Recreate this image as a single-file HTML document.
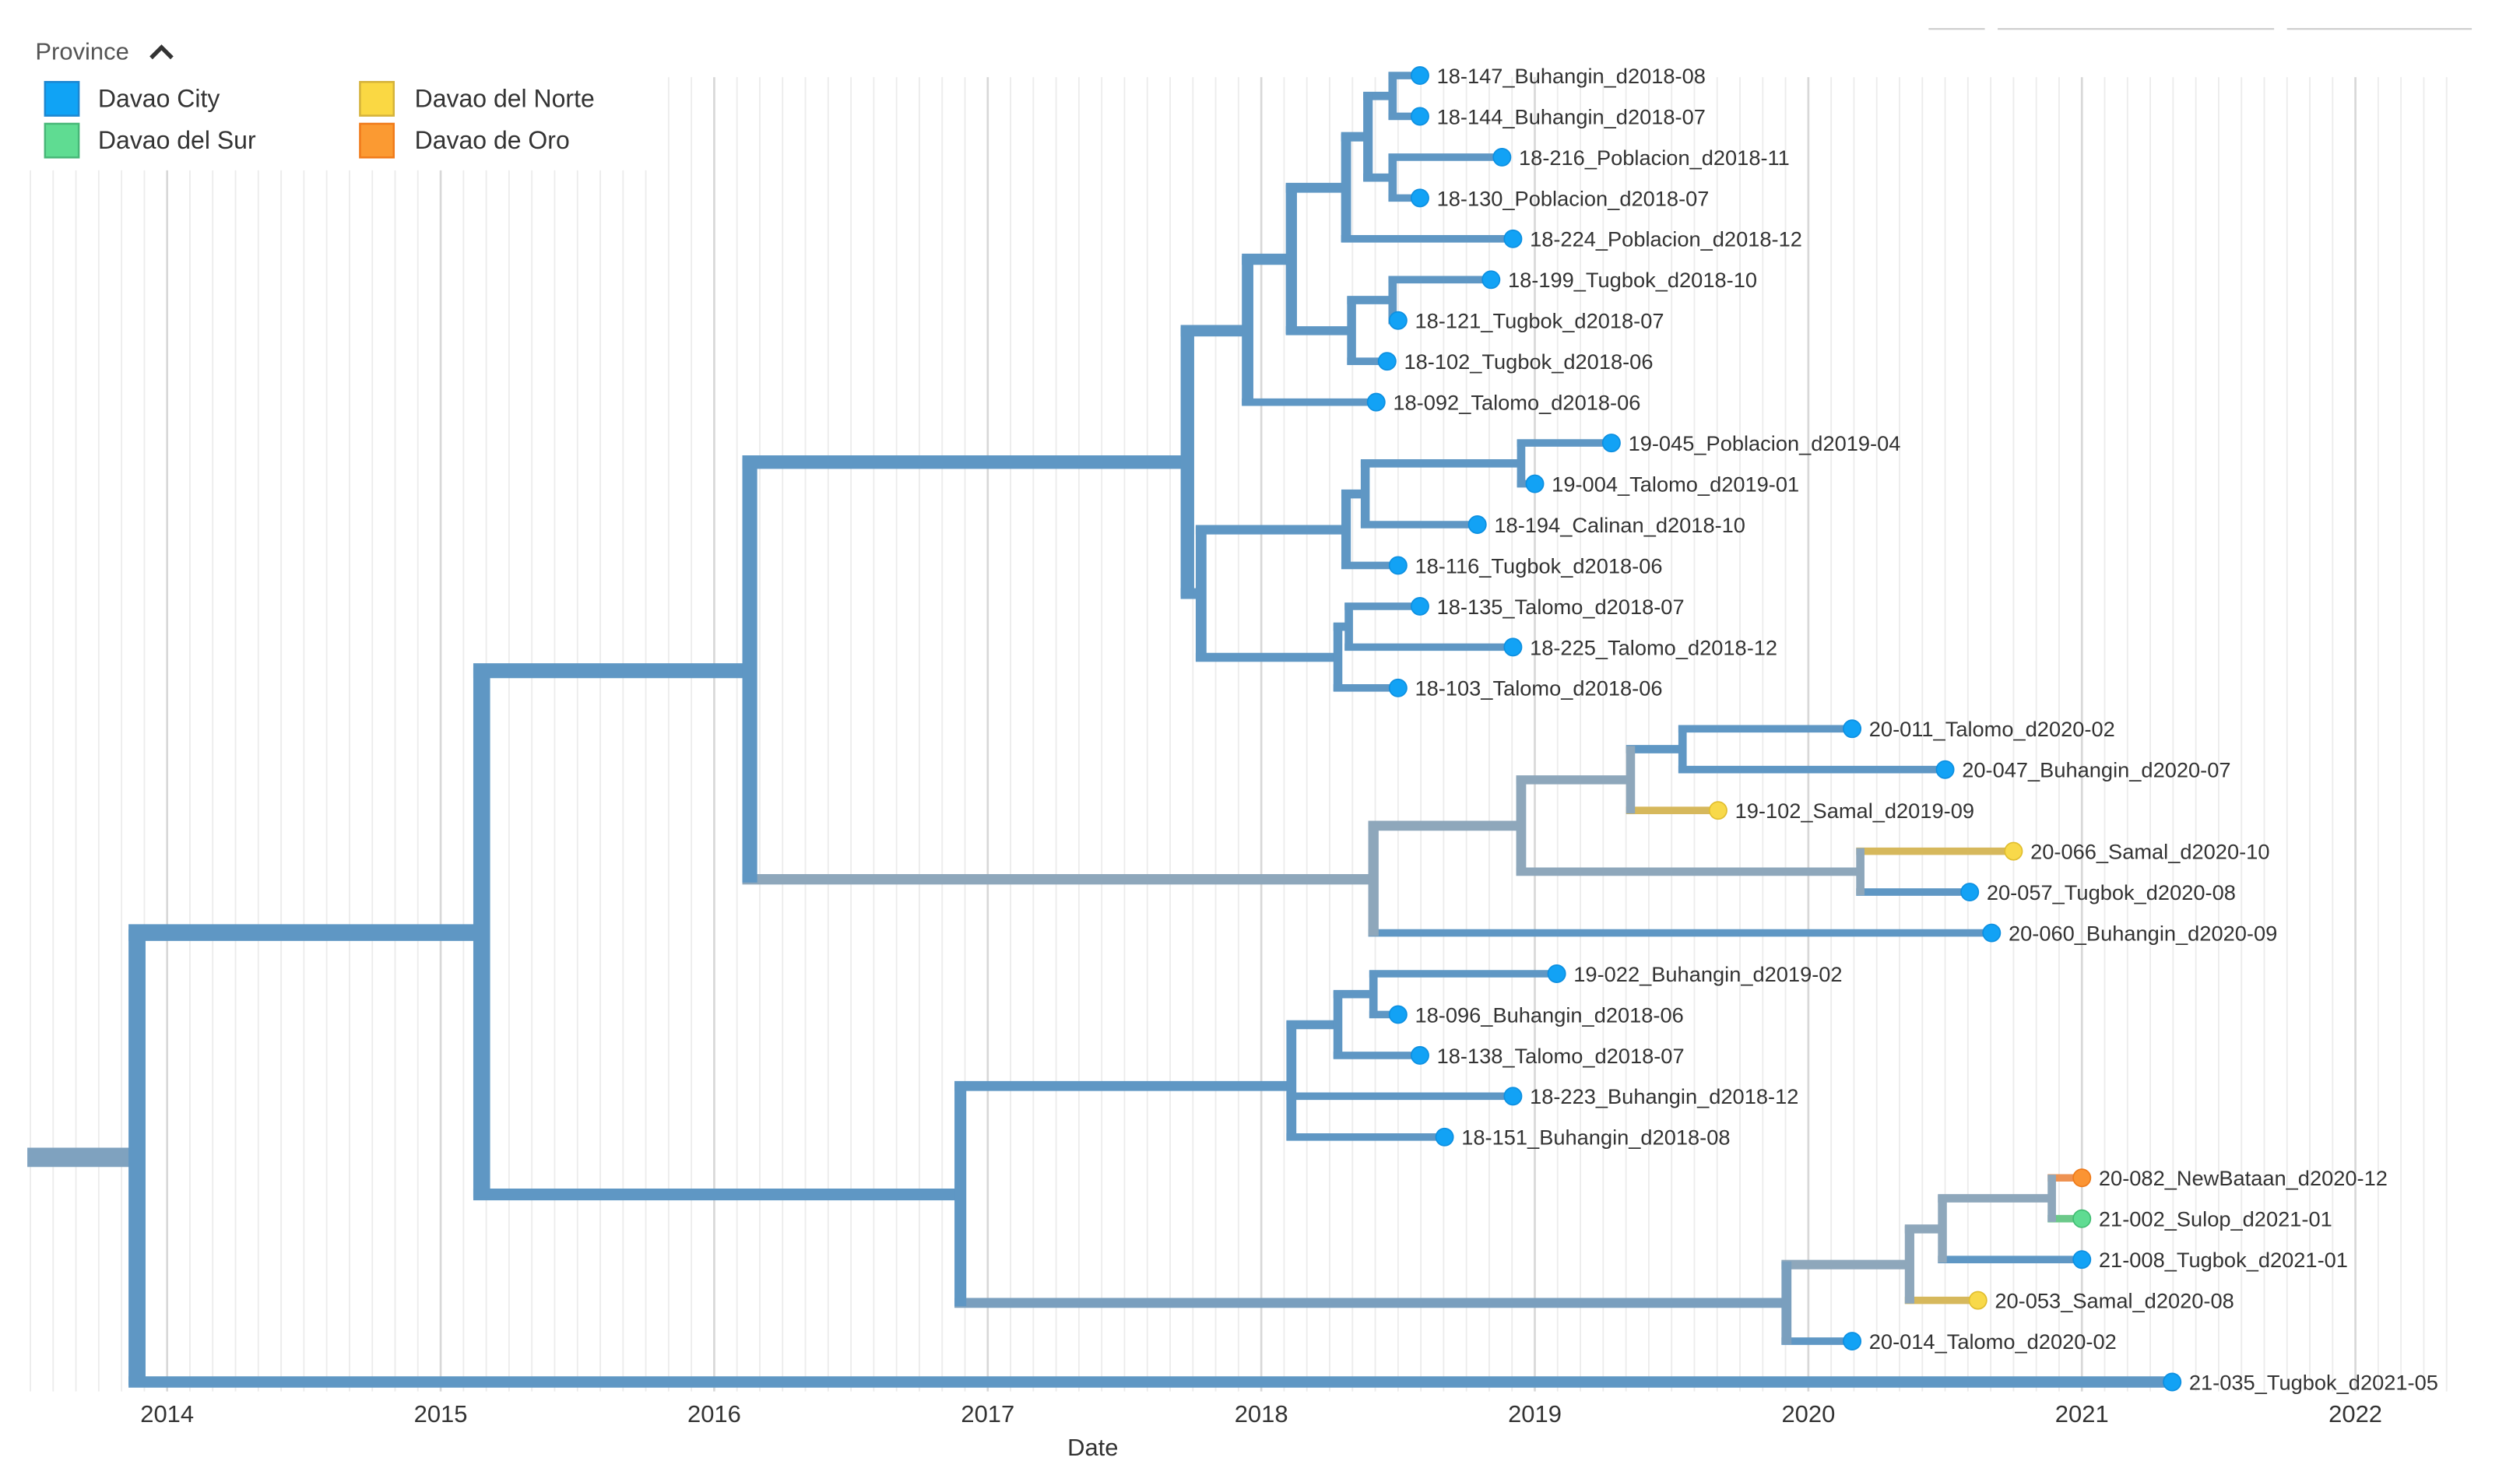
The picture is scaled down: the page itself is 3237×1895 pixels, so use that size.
<!DOCTYPE html>
<html><head><meta charset="utf-8"><style>
html,body{margin:0;padding:0;background:#fff;}
svg{display:block;font-family:"Liberation Sans",sans-serif;}
</style></head><body>
<svg id="chart" width="3237" height="1895" viewBox="0 0 1568 918" preserveAspectRatio="none" xmlns="http://www.w3.org/2000/svg">
<g id="grid"></g>
<g id="branches"></g>
<g id="tips"></g>
<g id="axis"></g>
<g>
  <text x="22" y="37" font-size="15" fill="#555">Province</text>
  <path d="M94 36 L100.5 29.5 L107 36" fill="none" stroke="#333" stroke-width="2.6"/>
  <g><rect x="28" y="51" width="21" height="21" fill="#10a3f5" stroke="#1c86d0" stroke-width="1.2"/><text x="61" y="66.5" font-size="15.5" fill="#333">Davao City</text></g>
  <g><rect x="28" y="77" width="21" height="21" fill="#5fdc92" stroke="#47b777" stroke-width="1.2"/><text x="61" y="92.5" font-size="15.5" fill="#333">Davao del Sur</text></g>
  <g><rect x="224" y="51" width="21" height="21" fill="#fad843" stroke="#d4b23a" stroke-width="1.2"/><text x="258" y="66.5" font-size="15.5" fill="#333">Davao del Norte</text></g>
  <g><rect x="224" y="77" width="21" height="21" fill="#fb9a32" stroke="#f07a1a" stroke-width="1.2"/><text x="258" y="92.5" font-size="15.5" fill="#333">Davao de Oro</text></g>
</g>
<g stroke="#ccc" stroke-width="1">
  <line x1="1200" y1="18" x2="1235" y2="18"/><line x1="1243" y1="18" x2="1415" y2="18"/><line x1="1423" y1="18" x2="1538" y2="18"/>
</g>
</svg>
<script>
const tipNames = ["18-147_Buhangin_d2018-08","18-144_Buhangin_d2018-07","18-216_Poblacion_d2018-11","18-130_Poblacion_d2018-07","18-224_Poblacion_d2018-12","18-199_Tugbok_d2018-10","18-121_Tugbok_d2018-07","18-102_Tugbok_d2018-06","18-092_Talomo_d2018-06","19-045_Poblacion_d2019-04","19-004_Talomo_d2019-01","18-194_Calinan_d2018-10","18-116_Tugbok_d2018-06","18-135_Talomo_d2018-07","18-225_Talomo_d2018-12","18-103_Talomo_d2018-06","20-011_Talomo_d2020-02","20-047_Buhangin_d2020-07","19-102_Samal_d2019-09","20-066_Samal_d2020-10","20-057_Tugbok_d2020-08","20-060_Buhangin_d2020-09","19-022_Buhangin_d2019-02","18-096_Buhangin_d2018-06","18-138_Talomo_d2018-07","18-223_Buhangin_d2018-12","18-151_Buhangin_d2018-08","20-082_NewBataan_d2020-12","21-002_Sulop_d2021-01","21-008_Tugbok_d2021-01","20-053_Samal_d2020-08","20-014_Talomo_d2020-02","21-035_Tugbok_d2021-05"];
const tipDates = [2018.58,2018.58,2018.88,2018.58,2018.92,2018.84,2018.50,2018.46,2018.42,2019.28,2019.00,2018.79,2018.50,2018.58,2018.92,2018.50,2020.16,2020.50,2019.67,2020.75,2020.59,2020.67,2019.08,2018.50,2018.58,2018.92,2018.67,2021.00,2021.00,2021.00,2020.62,2020.16,2021.33];
// 0 Davao City, 1 Davao del Sur, 2 Davao del Norte, 3 Davao de Oro
const tipRegions = [0,0,0,0,0,0,0,0,0,0,0,0,0,0,0,0,0,0,2,2,0,0,0,0,0,0,0,3,1,0,2,0,0];
const nodeNames = ["root","A","B","C","D","D1","P","Q","Q1","Q1a","Q1b","R","R1","D2","S","S1","S1a","T","T1","E","F","G","G1","H","C1","C1a","C1a1","C2","C2a","C2a1","C2a1a"];
const nodeDates = [2013.89,2015.15,2016.13,2016.90,2017.73,2017.95,2018.11,2018.31,2018.39,2018.48,2018.48,2018.33,2018.48,2017.78,2018.31,2018.38,2018.95,2018.28,2018.32,2018.41,2018.95,2019.35,2019.54,2020.19,2018.11,2018.28,2018.41,2019.92,2020.37,2020.49,2020.89];
const nodeChildren = [["A","t32"],["B","C"],["D","E"],["C1","C2"],["D1","D2"],["P","t8"],["Q","R"],["Q1","t4"],["Q1a","Q1b"],["t0","t1"],["t2","t3"],["R1","t7"],["t5","t6"],["S","T"],["S1","t12"],["S1a","t11"],["t9","t10"],["T1","t15"],["t13","t14"],["F","t21"],["G","H"],["G1","t18"],["t16","t17"],["t19","t20"],["C1a","t25","t26"],["C1a1","t24"],["t22","t23"],["C2a","t31"],["C2a1","t30"],["C2a1a","t29"],["t27","t28"]];
// 0 blue, 1 uncertain grey-blue, 2 mixed
const nodeStates = [0,0,0,0,0,0,0,0,0,0,0,0,0,0,0,0,0,0,0,1,1,1,0,1,0,0,0,2,1,1,1];
const yearTicks = [2014,2015,2016,2017,2018,2019,2020,2021,2022];

const NS = "http://www.w3.org/2000/svg";
const X0 = 104, PX_PER_YEAR = 170.2, Y0 = 47, ROW = 25.41;
function xScale(d){ return X0 + (d - 2014) * PX_PER_YEAR; }
function yRow(i){ return Y0 + ROW * i; }
const branchColors = ["#5f97c4","#8ea7bb","#7a9fbe"];
const tipBranchColors = ["#5f97c4","#6cc98a","#d6b85c","#ee9252"];
const dotColors = ["#12a2f5","#5fdc92","#f8d94a","#fb9433"];
const dotStroke = ["#0d8fe0","#41bd72","#e0bd2e","#ee7a1a"];
function mk(tag, attrs, parent){ const e=document.createElementNS(NS,tag); for(const k in attrs) e.setAttribute(k,attrs[k]); parent.appendChild(e); return e; }

const grid = document.getElementById("grid");
for (let m = -6; m <= 12*8+8; m++) {
  const d = 2014 + m/12; const x = xScale(d);
  if (x < 17 || x > 1530) continue;
  const major = (m % 12 === 0);
  const top = x < 409 ? 106 : 48;
  const ln = mk("line",{x1:x,x2:x,y1:top,y2:866,stroke:major?"#d8d8d8":"#ececec","stroke-width":major?1.3:0.9},grid);
  
  
}

const nodes = {};
tipNames.forEach((n,i)=>{ nodes["t"+i] = {id:"t"+i, tip:true, idx:i, date:tipDates[i], y:yRow(i), n:1}; });
nodeNames.forEach((n,i)=>{ nodes[n] = {id:n, tip:false, date:nodeDates[i], kids:nodeChildren[i], state:nodeStates[i]}; });
function layout(id){
  const nd = nodes[id]; if (nd.tip) return nd;
  let s=0, cnt=0; nd.kids.forEach(k=>{ const c=layout(k); s+=c.y; cnt+=c.n; });
  nd.y = s/nd.kids.length; nd.n = cnt; return nd;
}
layout("root");
function width(nd){ if (nd.id==="t32") return 7; return 3.4 + 1.25*Math.sqrt(nd.n); }
function color(nd){ return nd.tip ? tipBranchColors[tipRegions[nd.idx]] : branchColors[nd.state]; }

const br = document.getElementById("branches");
const root = nodes["root"];
const stem = mk("line",{x1:17,x2:xScale(root.date),y1:root.y,y2:root.y,stroke:"#7fa2bf","stroke-width":12},br);


const verticals = [];
nodeNames.forEach(n=>{
  const nd = nodes[n]; const px = xScale(nd.date); const pw = width(nd);
  nd.kids.forEach(k=>{
    const c = nodes[k];
    const h = mk("line",{x1:px - pw/2, x2:xScale(c.date), y1:c.y, y2:c.y, stroke:color(c), "stroke-width":width(c)},br);
    
    
  });
  const ys = nd.kids.map(k=>nodes[k].y);
  verticals.push({x:px, y1:Math.min(...ys), y2:Math.max(...ys), w:pw, c:color(nd), n:n});
});
verticals.forEach(v=>{
  const l = mk("line",{x1:v.x,x2:v.x,y1:v.y1 - 2,y2:v.y2 + 2,stroke:v.c,"stroke-width":v.w},br);
  
  
});

const tg = document.getElementById("tips");
tipNames.forEach((name,i)=>{
  const nd = nodes["t"+i]; const x = xScale(nd.date); const r = tipRegions[i];
  const c = mk("circle",{cx:x, cy:nd.y, r:5.4, fill:dotColors[r], stroke:dotStroke[r], "stroke-width":0.8},tg);
  
  
  const t = mk("text",{x:x+10.5, y:nd.y+4.8, "font-size":13.2, fill:"#333"},tg);
  t.textContent = name;
  
  
});

const ax = document.getElementById("axis");
yearTicks.forEach(yv=>{
  const t = mk("text",{x:xScale(yv), y:885, "font-size":15, fill:"#333", "text-anchor":"middle"},ax);
  t.textContent = String(yv);
  
  
});
const at = mk("text",{x:680, y:906, "font-size":15, fill:"#333", "text-anchor":"middle"},ax);
at.textContent = "Date";


</script>
</body></html>
